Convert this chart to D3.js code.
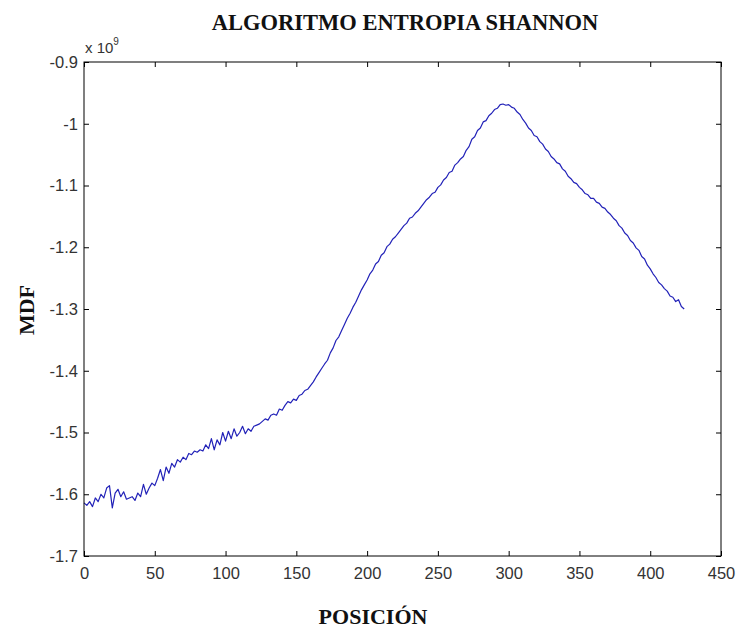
<!DOCTYPE html>
<html>
<head>
<meta charset="utf-8">
<script src="https://cdn.jsdelivr.net/npm/d3@7"></script>
<style>
  html, body { margin: 0; padding: 0; background: #fff; }
  svg { display: block; }
</style>
</head>
<body>
<svg id="chart" width="739" height="631"></svg>
<script>
// ---- data (values in units of 1e9) ----
const chartTitle = "ALGORITMO ENTROPIA SHANNON";
const xLabel = "POSICIÓN";
const yLabel = "MDF";
const xTicks = [0, 50, 100, 150, 200, 250, 300, 350, 400, 450];
const yTicks = [-0.9, -1, -1.1, -1.2, -1.3, -1.4, -1.5, -1.6, -1.7];
const yTickLabels = ["-0.9", "-1", "-1.1", "-1.2", "-1.3", "-1.4", "-1.5", "-1.6", "-1.7"];
const posStart = 0;
const posStep = 2;
const mdfValues = [
  -1.614, -1.618, -1.612, -1.620, -1.606, -1.612, -1.600, -1.606, -1.590, -1.586,
  -1.622, -1.598, -1.592, -1.604, -1.596, -1.608, -1.606, -1.604, -1.610, -1.598,
  -1.604, -1.584, -1.600, -1.590, -1.582, -1.586, -1.574, -1.560, -1.578, -1.556,
  -1.566, -1.550, -1.556, -1.544, -1.548, -1.540, -1.544, -1.534, -1.536, -1.530,
  -1.532, -1.528, -1.530, -1.520, -1.526, -1.510, -1.528, -1.512, -1.520, -1.500,
  -1.514, -1.498, -1.510, -1.494, -1.506, -1.500, -1.490, -1.502, -1.494, -1.498,
  -1.490, -1.488, -1.486, -1.482, -1.478, -1.480, -1.472, -1.470, -1.472, -1.462,
  -1.464, -1.456, -1.450, -1.452, -1.446, -1.448, -1.440, -1.438, -1.432, -1.430,
  -1.424, -1.418, -1.410, -1.403, -1.396, -1.389, -1.383, -1.371, -1.363, -1.351,
  -1.345, -1.335, -1.325, -1.315, -1.307, -1.297, -1.289, -1.279, -1.269, -1.261,
  -1.253, -1.243, -1.237, -1.227, -1.223, -1.213, -1.209, -1.199, -1.195, -1.187,
  -1.183, -1.177, -1.171, -1.165, -1.161, -1.153, -1.151, -1.145, -1.141, -1.135,
  -1.129, -1.123, -1.119, -1.113, -1.111, -1.103, -1.099, -1.091, -1.087, -1.079,
  -1.077, -1.067, -1.063, -1.057, -1.053, -1.043, -1.037, -1.025, -1.021, -1.011,
  -1.007, -0.997, -0.995, -0.987, -0.983, -0.977, -0.975, -0.969, -0.968, -0.970,
  -0.969, -0.973, -0.975, -0.981, -0.985, -0.993, -0.999, -1.007, -1.011, -1.019,
  -1.021, -1.029, -1.033, -1.041, -1.045, -1.053, -1.057, -1.063, -1.065, -1.073,
  -1.077, -1.085, -1.089, -1.095, -1.097, -1.103, -1.107, -1.113, -1.115, -1.121,
  -1.121, -1.127, -1.129, -1.135, -1.137, -1.143, -1.147, -1.153, -1.157, -1.165,
  -1.169, -1.177, -1.181, -1.189, -1.193, -1.201, -1.205, -1.215, -1.219, -1.229,
  -1.235, -1.243, -1.249, -1.257, -1.261, -1.267, -1.271, -1.279, -1.281, -1.288,
  -1.285, -1.296, -1.300
];

(function () {
  const svg = d3.select("#chart");
  const mLeft = 84, mRight = 721, mTop = 62, mBottom = 556;

  const x = d3.scaleLinear().domain([0, 450]).range([mLeft, mRight]);
  const y = d3.scaleLinear().domain([-1.7, -0.9]).range([mBottom, mTop]);

  const data = mdfValues.map((v, i) => ({ p: posStart + i * posStep, v }));

  svg.append("path")
    .datum(data)
    .attr("fill", "none")
    .attr("stroke", "#2222b8")
    .attr("stroke-width", 1.2)
    .attr("stroke-linejoin", "round")
    .attr("d", d3.line().x(d => x(d.p)).y(d => y(d.v)));

  const tickFont = "'Liberation Sans', Arial, sans-serif";
  const tickColor = "#333";
  const tickSize = 16.5;

  const xAxis = svg.append("g")
    .attr("transform", `translate(0,${mBottom})`)
    .call(d3.axisBottom(x).tickValues(xTicks).tickSizeInner(-5).tickSizeOuter(0).tickPadding(11).tickFormat(d3.format("d")));
  xAxis.select(".domain").remove();
  xAxis.selectAll("text").attr("font-family", tickFont).attr("font-size", tickSize).attr("fill", tickColor);
  xAxis.selectAll("line").attr("stroke", "#000");

  const xTop = svg.append("g")
    .attr("transform", `translate(0,${mTop})`)
    .call(d3.axisTop(x).tickValues(xTicks).tickSizeInner(-5).tickSizeOuter(0).tickFormat(""));
  xTop.select(".domain").remove();
  xTop.selectAll("line").attr("stroke", "#000");

  const yAxis = svg.append("g")
    .attr("transform", `translate(${mLeft},0)`)
    .call(d3.axisLeft(y).tickValues(yTicks).tickSizeInner(-5).tickSizeOuter(0).tickPadding(6)
      .tickFormat((d, i) => yTickLabels[i]));
  yAxis.select(".domain").remove();
  yAxis.selectAll("text").attr("font-family", tickFont).attr("font-size", tickSize).attr("fill", tickColor);
  yAxis.selectAll("line").attr("stroke", "#000");

  const yRight = svg.append("g")
    .attr("transform", `translate(${mRight},0)`)
    .call(d3.axisRight(y).tickValues(yTicks).tickSizeInner(-5).tickSizeOuter(0).tickFormat(""));
  yRight.select(".domain").remove();
  yRight.selectAll("line").attr("stroke", "#000");

  svg.append("rect")
    .attr("x", mLeft).attr("y", mTop)
    .attr("width", mRight - mLeft).attr("height", mBottom - mTop)
    .attr("fill", "none").attr("stroke", "#000").attr("stroke-width", 1);

  const expo = svg.append("text")
    .attr("x", mLeft + 1).attr("y", 53)
    .attr("font-family", tickFont).attr("font-size", 15).attr("fill", tickColor);
  expo.append("tspan").text("x 10");
  expo.append("tspan").attr("dy", -8).attr("font-size", 10).text("9");

  const serif = "'Liberation Serif', 'Times New Roman', serif";

  svg.append("text")
    .attr("x", 405).attr("y", 30)
    .attr("text-anchor", "middle")
    .attr("font-family", serif)
    .attr("font-weight", "bold").attr("font-size", 22.5)
    .attr("fill", "#111")
    .text(chartTitle);

  svg.append("text")
    .attr("x", 373).attr("y", 624)
    .attr("text-anchor", "middle")
    .attr("font-family", serif)
    .attr("font-weight", "bold").attr("font-size", 22)
    .attr("fill", "#111")
    .text(xLabel);

  svg.append("text")
    .attr("transform", "translate(34,310) rotate(-90)")
    .attr("text-anchor", "middle")
    .attr("font-family", serif)
    .attr("font-weight", "bold").attr("font-size", 22)
    .attr("fill", "#111")
    .text(yLabel);
})();
</script>
</body>
</html>
